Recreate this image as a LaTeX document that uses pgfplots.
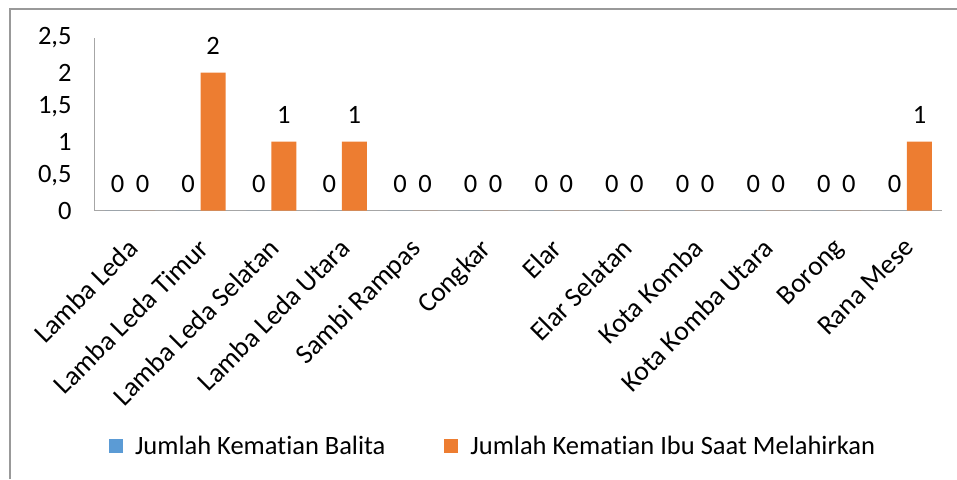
\documentclass[border=0pt]{standalone}
\usepackage{pgfplots}
\pgfplotsset{compat=1.18}
\usepackage{fontspec}
\setmainfont{Carlito}[Ligatures={NoCommon}]

\definecolor{balita}{HTML}{5B9BD5}
\definecolor{ibu}{HTML}{ED7D31}
\definecolor{axgray}{HTML}{A6A6A6}
\newcommand\chartfont{\fontsize{26.5}{31}\selectfont}

\pgfkeys{/pgf/number format/.cd, use comma, assume math mode=true}

% 0 = Lamba Leda ... 11 = Rana Mese
\pgfplotstableread{
idx balita ibu
0  0 0
1  0 2
2  0 1
3  0 1
4  0 0
5  0 0
6  0 0
7  0 0
8  0 0
9  0 0
10 0 0
11 0 1
}\kematian

\pgfplotsset{sqlegend/.style={legend image code/.code={\fill[##1,draw=none] (0pt,-7pt) rectangle (14pt,7pt);}}}

\begin{document}
\begin{tikzpicture}[x=1pt,y=1pt]
\path[use as bounding box] (0,0) rectangle (957,-479);
\draw[gray!80,line width=1.5pt] (10,-479) -- (10,-9) -- (957,-9);
\begin{axis}[
  at={(94.7pt,-210.5pt)}, anchor=south west,
  scale only axis, width=847.6pt, height=172.5pt,
  ybar=0pt, bar width=25pt,
  xmin=-0.5, xmax=11.5, ymin=0, ymax=2.5,
  axis x line=bottom, axis y line=left,
  axis line style={draw=axgray, line width=1.2pt, -},
  major tick length=0pt,
  xtick=data,
  xticklabels={Lamba Leda, Lamba Leda Timur, Lamba Leda Selatan, Lamba Leda Utara, Sambi Rampas, Congkar, Elar, Elar Selatan, Kota Komba, Kota Komba Utara, Borong, Rana Mese},
  xticklabel style={font=\fontsize{27.5}{32}\selectfont, inner sep=0pt, yshift=-26pt, xshift=-4pt, rotate=45, anchor=north east},
  ytick={0,0.5,1,1.5,2,2.5},
  yticklabel style={font=\chartfont, inner sep=0pt, anchor=east, xshift=-23pt},
  nodes near coords,
  every node near coord/.append style={font=\chartfont, inner sep=0pt, anchor=south, yshift=18pt, black},
  legend columns=2,
  legend style={at={(0.47,-1.365)}, anchor=center, draw=none, font=\chartfont,
    /tikz/every odd column/.append style={column sep=10pt},
    /tikz/every even column/.append style={column sep=57pt}},
]
\addplot[fill=balita, draw=none, sqlegend] table[x=idx, y=balita] {\kematian};
\addplot[fill=ibu, draw=none, sqlegend] table[x=idx, y=ibu] {\kematian};
\legend{Jumlah Kematian Balita, Jumlah Kematian Ibu Saat Melahirkan}
\end{axis}
\end{tikzpicture}
\end{document}
